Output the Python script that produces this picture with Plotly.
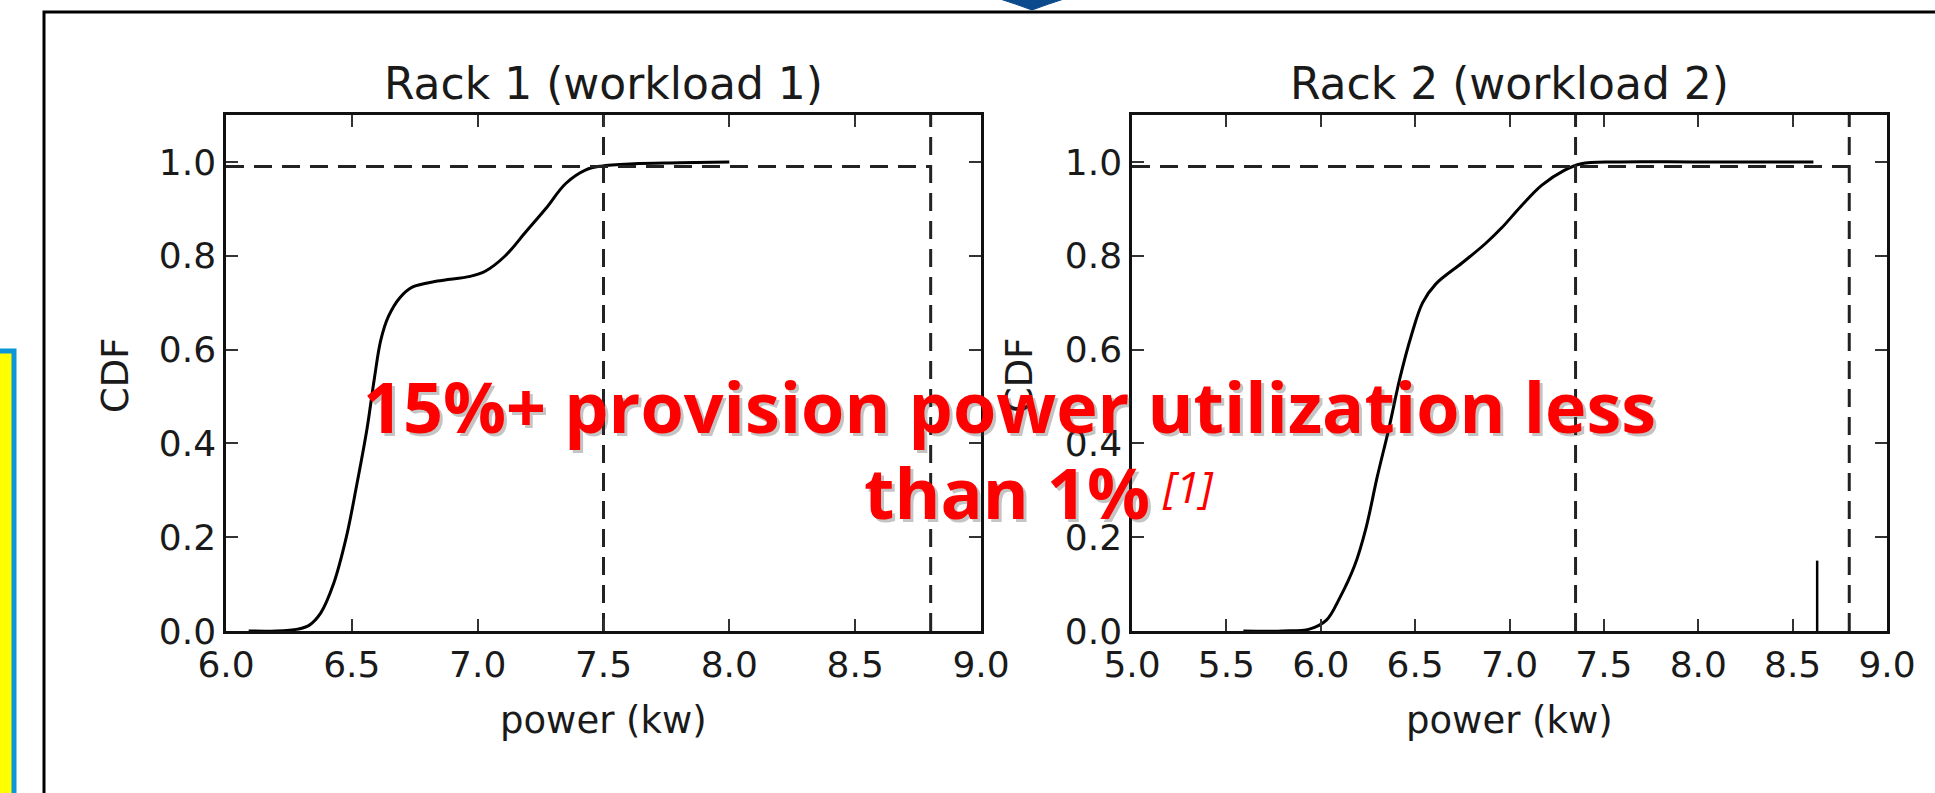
import plotly.graph_objects as go

W, H = 1935, 793

# ---------------- data ----------------
rack1_power = [6.09, 6.20, 6.285, 6.33, 6.376, 6.427, 6.478, 6.519, 6.56, 6.59, 6.615, 6.645, 6.69,
               6.74, 6.84, 6.97, 7.03, 7.11, 7.19, 7.27, 7.35, 7.43, 7.49, 7.62, 7.80, 8.0]
rack1_cdf = [0.0, 0.0, 0.004, 0.012, 0.038, 0.10, 0.20, 0.31, 0.43, 0.54, 0.62, 0.67, 0.71,
             0.733, 0.746, 0.756, 0.767, 0.80, 0.85, 0.90, 0.954, 0.983, 0.991, 0.996, 0.998, 1.0]

rack2_power = [5.59, 5.80, 5.94, 6.03, 6.10, 6.18, 6.24, 6.30, 6.36, 6.42, 6.48, 6.54, 6.61,
               6.75, 6.87, 6.96, 7.06, 7.17, 7.29, 7.38, 7.56, 8.0, 8.61]
rack2_cdf = [0.0, 0.0, 0.004, 0.023, 0.07, 0.14, 0.22, 0.33, 0.43, 0.54, 0.63, 0.70, 0.74,
             0.785, 0.825, 0.86, 0.905, 0.95, 0.982, 0.996, 1.0, 1.0, 1.0]

rack1_p99 = 7.5
rack2_p99 = 7.35
provision_power = 8.8
cdf_level = 0.99
rack2_spike_x = 8.63
rack2_spike_h = 0.15

rack1_xrange = [6.0, 9.0]
rack2_xrange = [5.0, 9.0]
y_range = [0.0, 1.1]
x_ticks_1 = [6.0, 6.5, 7.0, 7.5, 8.0, 8.5, 9.0]
x_ticks_2 = [5.0, 5.5, 6.0, 6.5, 7.0, 7.5, 8.0, 8.5, 9.0]
y_ticks = [0.0, 0.2, 0.4, 0.6, 0.8, 1.0]

titles = ["Rack 1 (workload 1)", "Rack 2 (workload 2)"]
x_label = "power (kw)"
y_label = "CDF"
note_line1 = "15%+ provision power utilization less"
note_line2 = "than 1%"
note_ref = "[1]"

# ---------------- layout helpers ----------------
def px(x):
    return x / W

def py(y):
    return 1 - y / H

ax1 = (226, 981)
ax2 = (1132, 1887)
ay = (115, 631)

fig = go.Figure()

line_style = dict(color="black", width=3)
dash_style = dict(color="#222", width=3, dash="18px,10px")

# curves
fig.add_trace(go.Scatter(x=rack1_power, y=rack1_cdf, mode="lines", line=dict(shape="spline", smoothing=1.0, **line_style),
                         xaxis="x", yaxis="y", showlegend=False, hoverinfo="skip"))
fig.add_trace(go.Scatter(x=rack2_power, y=rack2_cdf, mode="lines", line=dict(shape="spline", smoothing=1.0, **line_style),
                         xaxis="x2", yaxis="y2", showlegend=False, hoverinfo="skip"))
fig.add_trace(go.Scatter(x=[rack2_spike_x, rack2_spike_x], y=[0, rack2_spike_h], mode="lines",
                         line=dict(color="black", width=2.5), xaxis="x2", yaxis="y2", showlegend=False, hoverinfo="skip"))

# reference dashed lines
for xa, ya, xr, p99 in [("x", "y", rack1_xrange, rack1_p99), ("x2", "y2", rack2_xrange, rack2_p99)]:
    fig.add_trace(go.Scatter(x=[xr[0], provision_power], y=[cdf_level, cdf_level], mode="lines", line=dash_style,
                             xaxis=xa, yaxis=ya, showlegend=False, hoverinfo="skip"))
    for xv in (p99, provision_power):
        fig.add_trace(go.Scatter(x=[xv, xv], y=[y_range[0], y_range[1]], mode="lines", line=dash_style,
                                 xaxis=xa, yaxis=ya, showlegend=False, hoverinfo="skip"))

axis_common = dict(showline=True, linecolor="#111", linewidth=2.5, mirror="ticks", ticks="inside",
                   ticklen=12, tickwidth=2, tickcolor="#333", showgrid=False, zeroline=False, automargin=False,
                   tickfont=dict(family="DejaVu Sans", size=36, color="#1a1a1a"), tickformat=".1f")

fig.update_layout(
    width=W, height=H, margin=dict(l=0, r=0, t=0, b=0, pad=0, autoexpand=False),
    paper_bgcolor="white", plot_bgcolor="white", showlegend=False,
    xaxis=dict(domain=[px(ax1[0]), px(ax1[1])], range=rack1_xrange, tickvals=x_ticks_1, anchor="y", **axis_common),
    yaxis=dict(domain=[py(ay[1]), py(ay[0])], range=y_range, tickvals=y_ticks, anchor="x", **axis_common),
    xaxis2=dict(domain=[px(ax2[0]), px(ax2[1])], range=rack2_xrange, tickvals=x_ticks_2, anchor="y2", **axis_common),
    yaxis2=dict(domain=[py(ay[1]), py(ay[0])], range=y_range, tickvals=y_ticks, anchor="x2", **axis_common),
)

ann = []
txt_font = dict(family="DejaVu Sans", color="#1a1a1a")
for (x0, x1), t in zip([ax1, ax2], titles):
    cx = (x0 + x1) / 2
    ann.append(dict(x=px(cx), y=py(84), xref="paper", yref="paper", text=t, showarrow=False,
                    xanchor="center", yanchor="middle", font=dict(size=44, **txt_font)))
    ann.append(dict(x=px(cx), y=py(720), xref="paper", yref="paper", text=x_label, showarrow=False,
                    xanchor="center", yanchor="middle", font=dict(size=37, **txt_font)))
for lx in (115, 1019):
    ann.append(dict(x=px(lx), y=py(375), xref="paper", yref="paper", text=y_label, showarrow=False, textangle=-90,
                    xanchor="center", yanchor="middle", font=dict(size=37, **txt_font)))

red_font = dict(family="Open Sans", size=70, color="#ff0000", weight=700)
shadow_font = dict(family="Open Sans", size=70, color="rgba(60,60,60,0.3)", weight=700)
for txt, cx, cy in [(note_line1, 1009, 406), (note_line2, 1007, 492)]:
    ann.append(dict(x=px(cx), y=py(cy), xref="paper", yref="paper", text=txt, showarrow=False,
                    xanchor="center", yanchor="middle", font=shadow_font, xshift=3, yshift=-3))
    ann.append(dict(x=px(cx), y=py(cy), xref="paper", yref="paper", text=txt, showarrow=False,
                    xanchor="center", yanchor="middle", font=red_font))
ann.append(dict(x=px(1188), y=py(486), xref="paper", yref="paper", text="<i>" + note_ref + "</i>", showarrow=False,
                xanchor="center", yanchor="middle", font=dict(family="Open Sans", size=44, color="#ff0000")))
fig.update_layout(annotations=ann)

# slide decorations
shapes = [
    dict(type="rect", xref="paper", yref="paper", x0=px(44), x1=px(W + 50), y0=py(H + 50), y1=py(12),
         line=dict(color="black", width=3), fillcolor="rgba(0,0,0,0)", layer="below"),
    dict(type="rect", xref="paper", yref="paper", x0=px(-30), x1=px(14), y0=py(H + 50), y1=py(351),
         line=dict(color="#0a96d8", width=5), fillcolor="#ffff00", layer="below"),
    dict(type="path", xref="paper", yref="paper",
         path=f"M {px(997)},{py(-2)} L {px(1067)},{py(-2)} Q {px(1048)},{py(4)} {px(1032)},{py(10)} Q {px(1016)},{py(4)} {px(997)},{py(-2)} Z",
         line=dict(color="#0b4a8c", width=1), fillcolor="#0b4a8c", layer="above"),
]
fig.update_layout(shapes=shapes)

fig.write_html("out.html", config={"displayModeBar": False},
               post_script="document.body.style.margin='0';document.body.style.overflow='hidden';")
